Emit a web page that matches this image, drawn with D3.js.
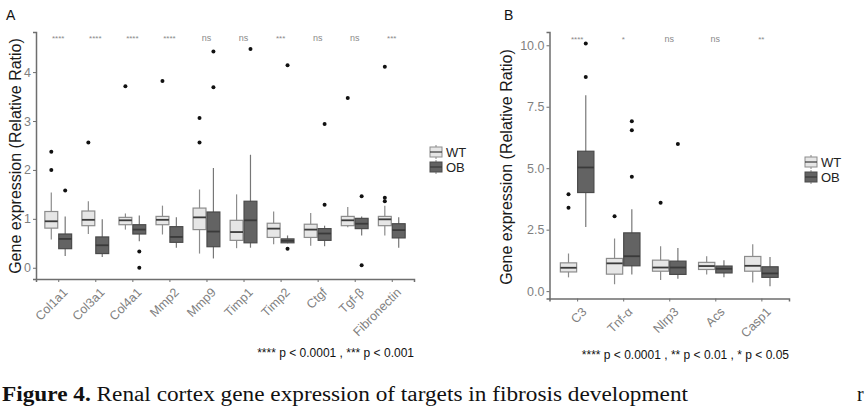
<!DOCTYPE html>
<html><head><meta charset="utf-8">
<script src="https://cdn.jsdelivr.net/npm/d3@7"></script>
<style>body{margin:0;background:#fff}svg{display:block}</style>
</head><body>
<svg id="c" width="865" height="410"></svg>
<script>
// ---------- DATA ----------
const groups = ["WT", "OB"];
// Panel A
const categoriesA = ["Col1a1","Col3a1","Col4a1","Mmp2","Mmp9","Timp1","Timp2","Ctgf","Tgf-β","Fibronectin"];
// [whisker low, q1, median, q3, whisker high]
const wtA = [[0.58,0.81,0.95,1.15,1.54],[0.69,0.86,0.98,1.16,1.36],[0.78,0.88,0.97,1.03,1.11],[0.68,0.88,0.98,1.05,1.27],[0.29,0.78,1.03,1.22,1.60],
             [0.40,0.56,0.73,0.97,1.50],[0.48,0.62,0.80,0.91,1.15],[0.45,0.62,0.78,0.89,1.12],[0.83,0.86,0.97,1.05,1.24],[0.66,0.86,0.99,1.05,1.27]];
const obA = [[0.24,0.39,0.59,0.69,1.05],[0.22,0.29,0.46,0.63,0.99],[0.54,0.69,0.78,0.88,1.07],[0.41,0.52,0.63,0.84,1.03],[0.19,0.43,0.74,1.14,2.04],
             [0.41,0.51,0.97,1.36,2.31],[0.50,0.51,0.55,0.59,0.66],[0.44,0.56,0.70,0.80,0.86],[0.66,0.80,0.90,1.01,1.05],[0.41,0.61,0.77,0.90,1.03]];
const wtAOut = [[2.0,2.37],[2.56],[3.71],[3.82],[2.56,3.06],[],[],[],[3.47],[1.36,1.43,4.11]];
const obAOut = [[1.58],[],[0.0,0.33],[],[3.69,4.42],[4.47],[0.39,4.14],[1.29,2.94],[0.05,1.46],[]];
const sigA = ["****","****","****","****","ns","ns","***","ns","ns","***"];
const ticksA = [0,1,2,3,4];
const noteA = "**** p < 0.0001 , *** p < 0.001";
// Panel B
const categoriesB = ["C3","Tnf-α","Nlrp3","Acs","Casp1"];
const wtB = [[0.56,0.78,0.95,1.15,1.53],[0.28,0.69,1.13,1.33,2.14],[0.45,0.81,0.96,1.26,1.83],[0.68,0.88,1.02,1.17,1.42],[0.35,0.81,1.03,1.41,1.91]];
const obB = [[2.61,4.01,5.03,5.69,7.97],[0.68,1.03,1.42,2.37,3.33],[0.50,0.68,0.96,1.22,1.75],[0.56,0.74,0.91,1.02,1.26],[0.20,0.56,0.72,0.99,1.39]];
const wtBOut = [[3.39,3.94],[3.05],[3.59],[],[]];
const obBOut = [[8.71,10.07],[4.65,6.54,6.91],[5.98],[],[]];
const sigB = ["****","*","ns","ns","**"];
const ticksB = [0,2.5,5,7.5,10];
const noteB = "**** p < 0.0001 , ** p < 0.01 , * p < 0.05";
const yTitle = "Gene expression (Relative Ratio)";
const captionBold = "Figure 4.";
const captionRest = " Renal cortex gene expression of targets in fibrosis development";

// ---------- STYLE ----------
const fillC = {WT:"#e6e6e6", OB:"#636363"};
const strokeC = {WT:"#8c8c8c", OB:"#4a4a4a"};
const svg = d3.select("#c");
const sans = "Liberation Sans, Arial, sans-serif";

function panel(cfg){
  const g = svg.append("g");
  const x = d3.scalePoint().domain(cfg.cats).range([cfg.x0, cfg.x1]).padding(0.6);
  const y = d3.scaleLinear().domain(cfg.ydom).range([cfg.y1, cfg.y0]);
  const step = x.step();
  const bw = step*0.75/2;
  const off = {WT:-bw/2, OB:bw/2};

  // axes
  const ya = d3.axisLeft(y).tickValues(cfg.ticks).tickFormat(cfg.fmt).tickSize(3).tickPadding(2);
  const gy = g.append("g").attr("transform",`translate(${cfg.x0},0)`).call(ya);
  const xa = d3.axisBottom(x).tickSize(3).tickFormat("");
  const gx = g.append("g").attr("transform",`translate(0,${cfg.y1})`).call(xa);
  [gy,gx].forEach(a=>{
    a.select(".domain").attr("stroke","#6e6e6e").attr("stroke-width",1.5);
    a.selectAll(".tick line").attr("stroke","#6e6e6e").attr("stroke-width",1);
    a.selectAll(".tick text").attr("fill","#7f7f7f").attr("font-family",sans).attr("font-size",12.5);
  });
  // x labels rotated
  g.selectAll(".xl").data(cfg.cats).enter().append("text")
    .attr("transform",d=>`translate(${x(d)+4},${cfg.y1+8}) rotate(-45)`)
    .attr("text-anchor","end").attr("dy","0.7em")
    .attr("fill","#7f7f7f").attr("font-family",sans).attr("font-size",12.5).text(d=>d);

  // boxes
  groups.forEach(grp=>{
    const stats = grp==="WT"?cfg.wt:cfg.ob;
    const outs = grp==="WT"?cfg.wtOut:cfg.obOut;
    cfg.cats.forEach((c,i)=>{
      const s = stats[i], cx = x(c)+off[grp];
      const bg = g.append("g");
      bg.append("line").attr("x1",cx).attr("x2",cx).attr("y1",y(s[0])).attr("y2",y(s[4]))
        .attr("stroke",grp==="WT"?"#8c8c8c":"#777").attr("stroke-width",1.2);
      bg.append("rect").attr("x",cx-bw/2+0.5).attr("width",bw-1)
        .attr("y",y(s[3])).attr("height",y(s[1])-y(s[3]))
        .attr("fill",fillC[grp]).attr("stroke",strokeC[grp]).attr("stroke-width",1.2);
      bg.append("line").attr("x1",cx-bw/2+0.5).attr("x2",cx+bw/2-0.5).attr("y1",y(s[2])).attr("y2",y(s[2]))
        .attr("stroke","#3a3a3a").attr("stroke-width",1.8);
      outs[i].forEach(v=>{
        bg.append("circle").attr("cx",cx).attr("cy",y(v)).attr("r",2).attr("fill","#111");
      });
    });
  });
  // significance
  g.selectAll(".sig").data(cfg.sig).enter().append("text")
    .attr("x",(d,i)=>x(cfg.cats[i])).attr("y",cfg.sigY).attr("text-anchor","middle")
    .attr("fill","#8a8a8a").attr("font-family",sans).attr("font-size",d=>d==="ns"?9:8).text(d=>d);
  // y title
  g.append("text").attr("transform",`translate(${cfg.titleX},${cfg.titleY}) rotate(-90)`)
    .attr("text-anchor","middle").attr("fill","#1a1a1a").attr("font-family",sans).attr("font-size",16).text(yTitle);
  // legend
  groups.forEach((grp,k)=>{
    const ly = cfg.legY + k*15, lx = cfg.legX;
    g.append("line").attr("x1",lx).attr("x2",lx).attr("y1",ly-7).attr("y2",ly+7).attr("stroke","#888").attr("stroke-width",1);
    g.append("rect").attr("x",lx-6).attr("y",ly-5).attr("width",12).attr("height",10)
      .attr("fill",fillC[grp]).attr("stroke",strokeC[grp]).attr("stroke-width",1);
    g.append("line").attr("x1",lx-6).attr("x2",lx+6).attr("y1",ly).attr("y2",ly).attr("stroke","#3a3a3a").attr("stroke-width",1.2);
    g.append("text").attr("x",lx+10).attr("y",ly).attr("dy","0.36em").attr("fill","#222")
      .attr("font-family",sans).attr("font-size",13).text(grp);
  });
  // note
  g.append("text").attr("x",cfg.x1).attr("y",cfg.noteY).attr("text-anchor","end").attr("fill","#111")
    .attr("font-family",sans).attr("font-size",12).text(cfg.note);
  // panel label
  g.append("text").attr("x",cfg.labX).attr("y",20).attr("fill","#111").attr("font-family",sans)
    .attr("font-size",14).text(cfg.label);
}

panel({cats:categoriesA, wt:wtA, ob:obA, wtOut:wtAOut, obOut:obAOut, sig:sigA, ticks:ticksA, fmt:d3.format("d"),
  x0:36, x1:414, y0:32, y1:279, ydom:[-0.23,4.82], sigY:41, titleX:21, titleY:156, legX:436, legY:152,
  note:noteA, noteY:357, label:"A", labX:6});
panel({cats:categoriesB, wt:wtB, ob:obB, wtOut:wtBOut, obOut:obBOut, sig:sigB, ticks:ticksB, fmt:d3.format(".1f"),
  x0:549.5, x1:789, y0:32, y1:298.5, ydom:[-0.3,10.54], sigY:42, titleX:512, titleY:167, legX:811, legY:162,
  note:noteB, noteY:359, label:"B", labX:504});

// caption
const cap = svg.append("text").attr("x",2).attr("y",401).attr("font-family","Liberation Serif, Times New Roman, serif")
  .attr("font-size",20).attr("fill","#111").attr("textLength",686).attr("lengthAdjust","spacingAndGlyphs");
cap.append("tspan").attr("font-weight","bold").text(captionBold);
cap.append("tspan").text(captionRest);
svg.append("text").attr("x",857).attr("y",401).attr("font-family","Liberation Serif, serif").attr("font-size",20).attr("fill","#111").text("r");
</script>
</body></html>
